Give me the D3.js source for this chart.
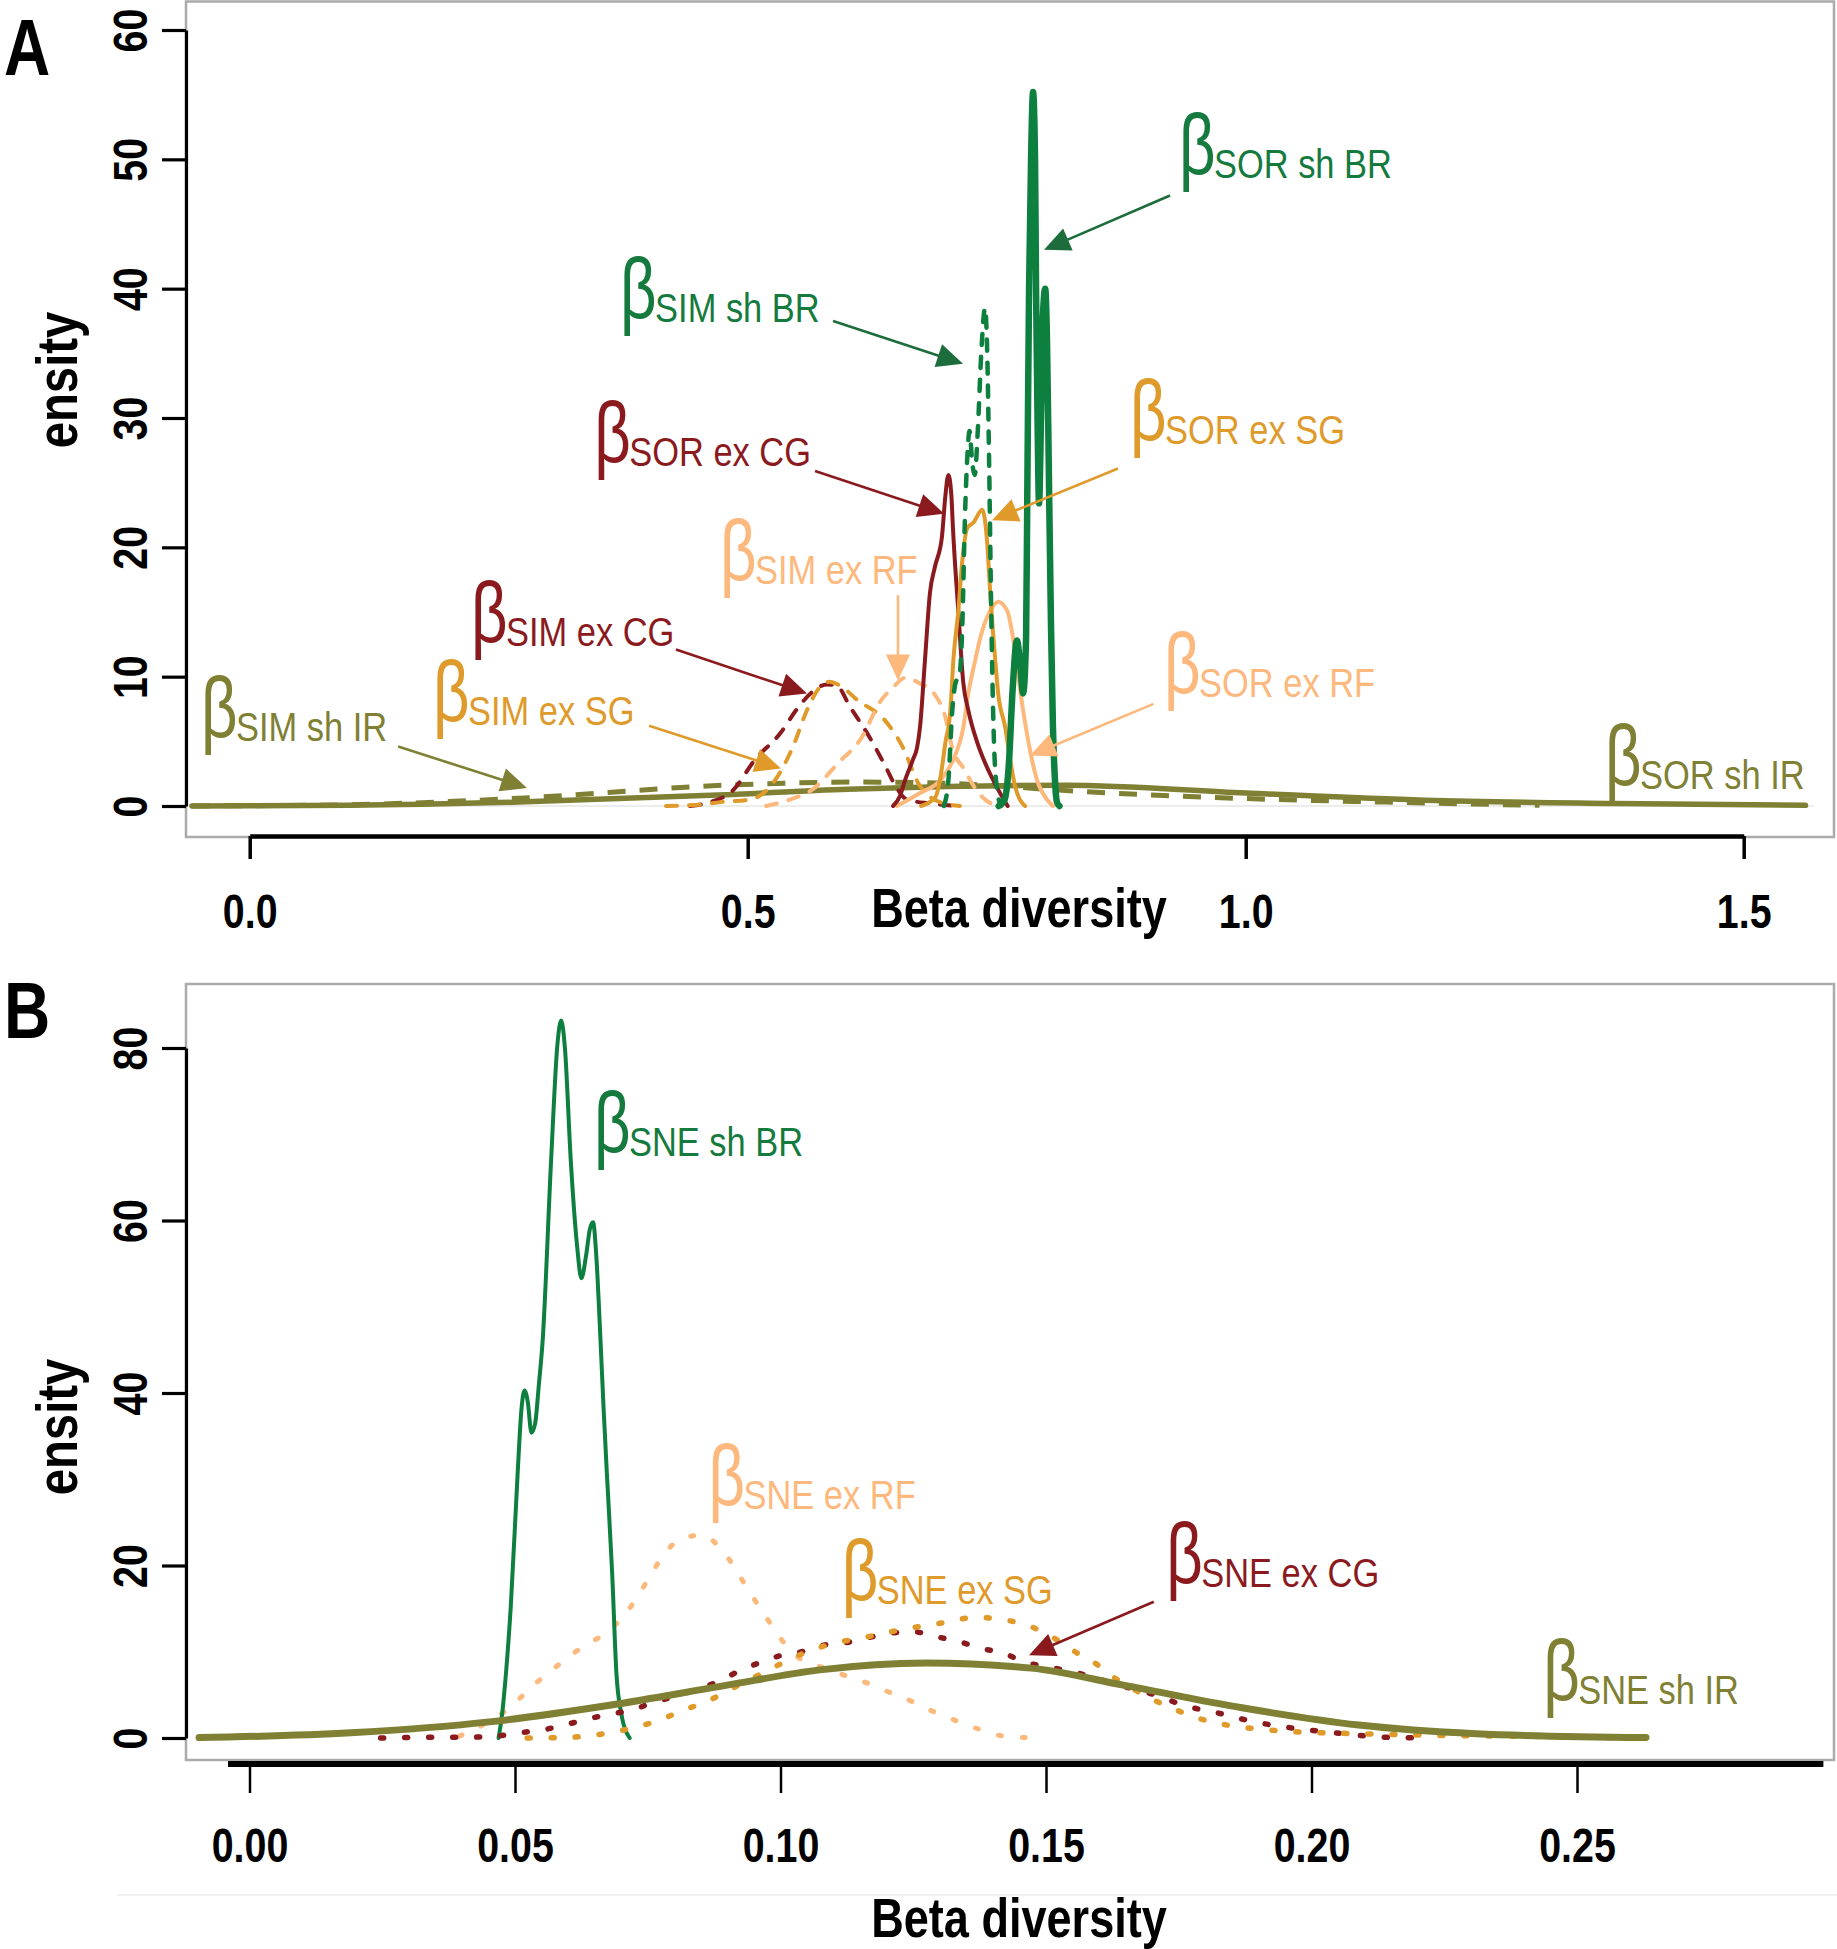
<!DOCTYPE html>
<html><head><meta charset="utf-8">
<script src="https://cdn.jsdelivr.net/npm/d3@7"></script>
<style>
html,body{margin:0;padding:0;background:#fff;}
svg{display:block;}
text{font-family:"Liberation Sans Narrow","Arial Narrow","Liberation Sans",Arial,sans-serif;}
</style></head><body>
<svg id="chart" width="1837" height="1949"></svg>
<script>
// ---------------- DATA ----------------
const xTicksA = [0, 0.5, 1.0, 1.5];
const xTickLabelsA = ["0.0", "0.5", "1.0", "1.5"];
const yTicksA = [0, 10, 20, 30, 40, 50, 60];
const xTicksB = [0, 0.05, 0.10, 0.15, 0.20, 0.25];
const xTickLabelsB = ["0.00", "0.05", "0.10", "0.15", "0.20", "0.25"];
const yTicksB = [0, 20, 40, 60, 80];
const xTitle = "Beta diversity";
const yTitle = "ensity";

// Panel A: [beta diversity, density]
const sorShBR = [[0.752,0],[0.758,0.5],[0.762,3],[0.766,9],[0.7703,12.8],[0.7735,11],[0.7765,8.7],[0.7795,13],[0.7808,25],[0.7825,40],[0.7845,50],[0.7865,55.2],[0.7885,50],[0.7895,40],[0.791,30],[0.7925,23.4],[0.7945,30],[0.7965,38],[0.7987,40],[0.8005,36],[0.8025,25],[0.8045,14],[0.8065,6],[0.8085,2],[0.8105,0.3],[0.813,0]];
const simShBR = [[0.697,0],[0.7015,2],[0.7055,7.5],[0.709,9.6],[0.7125,10],[0.7155,14],[0.718,22],[0.7205,27],[0.7227,29],[0.7255,26.5],[0.728,25.6],[0.731,29],[0.7345,35],[0.7383,38.5],[0.7405,35],[0.7425,26],[0.7445,15],[0.7465,7],[0.748,3.5],[0.751,1],[0.754,0]];
const sorExCG = [[0.646,0],[0.653,0.8],[0.658,2],[0.666,3.6],[0.670,4.5],[0.673,6.1],[0.678,11.3],[0.683,16.5],[0.688,18.5],[0.695,20.8],[0.6985,24],[0.7015,25.6],[0.7045,24],[0.706,21.6],[0.7115,15],[0.7165,9.5],[0.7215,7.4],[0.7305,4.9],[0.7385,3.3],[0.7505,1.4],[0.761,0]];
const simExCG = [[0.442,0],[0.462,0.3],[0.485,1.2],[0.5075,3.6],[0.5325,5.6],[0.5495,7.5],[0.5645,8.8],[0.5795,9.4],[0.5895,9.3],[0.6025,7.7],[0.6225,5.3],[0.64,2.8],[0.648,1.6],[0.66,0.5],[0.683,0.2],[0.713,0]];
const sorExSG = [[0.674,0],[0.6885,0.7],[0.6935,2.2],[0.6985,4.9],[0.7035,7.4],[0.7065,11.3],[0.7115,15.1],[0.7155,19],[0.7205,21.5],[0.7265,21.9],[0.7355,22.9],[0.7405,20.3],[0.7435,16.5],[0.7485,11.3],[0.7515,8.7],[0.7585,6.1],[0.7635,3.6],[0.7685,1.5],[0.7785,0]];
const simExSG = [[0.418,0],[0.452,0.1],[0.4725,0.3],[0.5025,0.5],[0.5275,2],[0.5455,4.6],[0.5595,7.4],[0.5705,9],[0.5815,9.6],[0.593,9.3],[0.61,8.2],[0.638,6.6],[0.656,4.5],[0.671,1.8],[0.693,0.3],[0.713,0]];
const sorExRF = [[0.65,0],[0.673,1],[0.6935,2],[0.7065,3.6],[0.7165,6.1],[0.7215,8.7],[0.7285,11.3],[0.7335,13],[0.7435,15.1],[0.7515,15.8],[0.7605,15.1],[0.7655,13.4],[0.7705,10.7],[0.7765,7.4],[0.7835,4.3],[0.7905,2],[0.8005,0.5],[0.8065,0]];
const simExRF = [[0.5185,0],[0.5425,0.5],[0.5655,1.3],[0.5905,3.3],[0.6145,5.3],[0.6325,8],[0.6475,9.3],[0.6575,9.9],[0.6725,9.5],[0.688,8.6],[0.698,7],[0.706,4.3],[0.716,3],[0.730,1.2],[0.740,0.4],[0.7535,0]];
const sorShIR = [[-0.058,0],[0.1,0.05],[0.27,0.3],[0.47,0.85],[0.6,1.3],[0.7,1.5],[0.82,1.6],[1.0,1.0],[1.18,0.45],[1.37,0.2],[1.562,0.05]];
const simShIR = [[-0.058,0],[0.1,0.1],[0.27,0.6],[0.475,1.6],[0.61,1.85],[0.7,1.75],[0.84,1.1],[0.99,0.6],[1.14,0.3],[1.295,0.05]];

// Panel B
const sneShBR = [[0.0469,0],[0.0475,2.4],[0.0483,7.5],[0.0492,15.2],[0.0505,30.7],[0.0512,38],[0.0518,40.3],[0.0524,39],[0.0531,35.4],[0.0538,36.5],[0.0545,41],[0.0552,46],[0.0568,67],[0.058,80.5],[0.0587,83.2],[0.0594,80],[0.0605,67],[0.0617,57],[0.0625,53.3],[0.0634,56],[0.0641,59],[0.0647,59.8],[0.0653,56],[0.066,47.5],[0.0667,38],[0.0673,30.7],[0.0683,19.1],[0.0691,7.5],[0.07,2.9],[0.0716,0]];
const sneExRF = [[0.0395,0.2],[0.0406,0.5],[0.0445,1.7],[0.0479,3.0],[0.0509,4.6],[0.054,6.4],[0.0574,8.1],[0.0609,9.8],[0.0643,11.1],[0.0678,12.5],[0.0713,14.8],[0.0747,18],[0.0782,21.4],[0.0816,23.2],[0.0851,23.5],[0.089,21.8],[0.0916,19.5],[0.0937,17.4],[0.096,15.2],[0.0985,12.9],[0.1007,11],[0.1041,9],[0.1084,8.1],[0.1119,7.3],[0.1162,6.4],[0.1205,5.3],[0.1249,4.2],[0.1283,3.2],[0.1327,2.1],[0.137,1.1],[0.1404,0.4],[0.1447,0.1],[0.1487,0]];
const sneExSG = [[0.0523,0],[0.0609,0.1],[0.0678,0.6],[0.073,1.3],[0.0773,2.1],[0.0816,3.2],[0.086,4.2],[0.0893,5.2],[0.0929,6.4],[0.0972,7.7],[0.1007,8.8],[0.105,10],[0.1102,11],[0.1162,11.7],[0.1223,12.5],[0.13,13.3],[0.137,14.0],[0.1394,13.9],[0.1472,12.9],[0.1515,11.6],[0.156,9.8],[0.1592,8.7],[0.1626,7.1],[0.1658,5.9],[0.1703,4.4],[0.1736,3.5],[0.1781,2.4],[0.1824,1.7],[0.189,1.1],[0.1978,0.7],[0.2089,0.5],[0.2244,0.3],[0.2398,0.2],[0.2596,0]];
const sneExCG = [[0.0247,0],[0.0376,0.1],[0.0419,0.1],[0.0462,0.2],[0.0506,0.6],[0.0549,0.9],[0.0592,1.5],[0.0673,2.7],[0.0717,3.2],[0.076,4.1],[0.0799,4.8],[0.0841,5.6],[0.0881,6.5],[0.092,7.7],[0.0959,8.7],[0.1003,9.6],[0.104,10],[0.1084,10.8],[0.1127,11.1],[0.117,11.7],[0.1214,12.2],[0.1251,12.3],[0.1297,11.7],[0.134,11.1],[0.1378,10.4],[0.1421,9.8],[0.146,8.8],[0.1507,8.2],[0.1547,7.7],[0.1587,7.1],[0.1626,6.3],[0.1658,5.8],[0.1715,4.8],[0.1758,3.8],[0.1824,2.9],[0.189,1.9],[0.1958,1.2],[0.2045,0.6],[0.2133,0.1],[0.2221,0]];
const sneShIR = [[-0.0095,0.05],[0.0191,0.6],[0.0456,1.9],[0.0678,3.8],[0.0897,6.1],[0.1074,7.9],[0.1273,8.7],[0.1472,8.1],[0.1648,6.1],[0.1869,3.5],[0.2089,1.5],[0.231,0.5],[0.263,0.05]];

// Annotations (data units): label anchor + optional arrow [x0,y0,x1,y1]
const annotationsA = [
  {grp:"shBR", sub:"SOR sh BR", x:0.936, y:48.9, arrow:[0.924,47.2,0.7975,43.0]},
  {grp:"shBR", sub:"SIM sh BR", x:0.3749, y:37.7, arrow:[0.5857,37.5,0.7162,34.2]},
  {grp:"exCG", sub:"SOR ex CG", x:0.3489, y:26.6, arrow:[0.5676,25.9,0.6972,22.6]},
  {grp:"exSG", sub:"SOR ex SG", x:0.8869, y:28.3, arrow:[0.8718,26.1,0.7453,22.1]},
  {grp:"exRF", sub:"SIM ex RF", x:0.4752, y:17.5, arrow:[0.6509,16.3,0.6509,9.7]},
  {grp:"exCG", sub:"SIM ex CG", x:0.2252, y:12.7, arrow:[0.428,12.1,0.5595,8.7]},
  {grp:"exSG", sub:"SIM ex SG", x:0.187, y:6.6, arrow:[0.401,6.2,0.5334,2.9]},
  {grp:"shIR", sub:"SIM sh IR", x:-0.0459, y:5.3, arrow:[0.149,4.6,0.2784,1.4]},
  {grp:"exRF", sub:"SOR ex RF", x:0.9211, y:8.7, arrow:[0.9074,7.9,0.7834,3.9]},
  {grp:"shIR", sub:"SOR sh IR", x:1.3638, y:1.6, arrow:null}
];
const annotationsB = [
  {grp:"shBR", sub:"SNE sh BR", x:0.06544, y:67.9, arrow:null},
  {grp:"exRF", sub:"SNE ex RF", x:0.0870, y:27.0, arrow:null},
  {grp:"exSG", sub:"SNE ex SG", x:0.1121, y:16.0, arrow:null},
  {grp:"exCG", sub:"SNE ex CG", x:0.1732, y:18.0, arrow:[0.1703,15.8,0.1468,9.6]},
  {grp:"shIR", sub:"SNE sh IR", x:0.2442, y:4.4, arrow:null}
];

// ---------------- STYLES ----------------
const lineCol = {shBR:"#0d7f3f", exCG:"#8b1a1e", exSG:"#e09a2a", exRF:"#fdb87b", shIR:"#7f8034"};
const textCol = {shBR:"#157a3e", exCG:"#8b1a1e", exSG:"#df9a2c", exRF:"#fdb87d", shIR:"#7f8034"};
const arrowCol = {shBR:"#1d6d3c", exCG:"#8b1a1e", exSG:"#e09a2a", exRF:"#fdb87b", shIR:"#7f8034"};
const SX = 0.82; // horizontal condensing of all text (narrow face look)

const seriesA = [
  {d:sorShIR, grp:"shIR", w:5.5, dash:null},
  {d:simShIR, grp:"shIR", w:5, dash:"18,14", cap:"butt"},
  {d:simExCG, grp:"exCG", w:4, dash:"11,12", cap:"round"},
  {d:simExSG, grp:"exSG", w:4, dash:"11,12", cap:"round"},
  {d:simExRF, grp:"exRF", w:4, dash:"11,12", cap:"round"},
  {d:sorExRF, grp:"exRF", w:4, dash:null},
  {d:sorExCG, grp:"exCG", w:4, dash:null},
  {d:sorExSG, grp:"exSG", w:4, dash:null},
  {d:simShBR, grp:"shBR", w:4.5, dash:"11,12", cap:"round"},
  {d:sorShBR, grp:"shBR", w:6.5, dash:null}
];
const seriesB = [
  {d:sneExRF, grp:"exRF", w:5, dash:"3,21", cap:"round"},
  {d:sneShBR, grp:"shBR", w:4, dash:null},
  {d:sneExCG, grp:"exCG", w:5.5, dash:"3,21", cap:"round"},
  {d:sneExSG, grp:"exSG", w:5.5, dash:"3,21", cap:"round"},
  {d:sneShIR, grp:"shIR", w:7, dash:null}
];

// ---------------- SCALES ----------------
const xA = d3.scaleLinear().domain([0, 1.5]).range([249.7, 1743.7]);
const yA = d3.scaleLinear().domain([0, 60]).range([806, 30]);
const xB = d3.scaleLinear().domain([0, 0.25]).range([249.5, 1577]);
const yB = d3.scaleLinear().domain([0, 80]).range([1738, 1048]);

const svg = d3.select("#chart");
svg.append("rect").attr("width",1837).attr("height",1949).attr("fill","#fff");

const frameCol = "#ababab";

function ctext(g, x, y, str, size, opts = {}) {
  const t = g.append("text")
    .attr("transform", `translate(${x},${y})${opts.rot ? " rotate(" + opts.rot + ")" : ""} scale(${opts.sx || SX},1)`)
    .attr("text-anchor", opts.anchor || "start")
    .style("font-size", size + "px")
    .attr("fill", opts.fill || "#000")
    .text(str);
  if (opts.bold) t.style("font-weight", "bold");
  return t;
}

function panel(opts) {
  const {xs, ys, xTicks, xLabels, yTicks, box, series, ann, letter, letterY, xAxisY, yTitleY, xTitleY, xTickLabelY, thickX, xLineExt, zeroLine} = opts;
  const g = svg.append("g");
  g.append("rect").attr("x", box[0]).attr("y", box[1]).attr("width", box[2]-box[0]).attr("height", box[3]-box[1])
    .attr("fill","none").attr("stroke", frameCol).attr("stroke-width", 2.5);
  if (zeroLine) {
    g.append("line").attr("x1", xs(zeroLine[0])).attr("x2", xs(zeroLine[1])).attr("y1", ys(0)).attr("y2", ys(0))
      .attr("stroke","#e6e6e6").attr("stroke-width",1.5);
  }
  const line = d3.line().x(d => xs(d[0])).y(d => ys(d[1])).curve(d3.curveMonotoneX);
  series.forEach(s => {
    const p = g.append("path").attr("d", line(s.d)).attr("fill","none")
      .attr("stroke", lineCol[s.grp]).attr("stroke-width", s.w)
      .attr("stroke-linejoin","round").attr("stroke-linecap", s.cap || "round");
    if (s.dash) p.attr("stroke-dasharray", s.dash);
  });
  // y axis
  const yAx = d3.axisLeft(ys).tickValues(yTicks).tickSize(24).tickSizeOuter(0).tickFormat(d3.format("d"));
  const yg = g.append("g").attr("transform", `translate(${box[0]},0)`).call(yAx);
  yg.select(".domain").attr("stroke","#000").attr("stroke-width",3.2);
  yg.selectAll(".tick line").attr("stroke","#000").attr("stroke-width",3.2);
  yg.selectAll(".tick text").attr("x",0).attr("y",0).attr("dy",0).attr("text-anchor","middle")
    .attr("transform",`translate(-39,0) rotate(-90) scale(${SX},1)`)
    .style("font-size","48px").style("font-weight","bold").attr("fill","#000")
    .style("font-family",'"Liberation Sans Narrow","Arial Narrow","Liberation Sans",Arial,sans-serif');
  // x axis
  const xAx = d3.axisBottom(xs).tickValues(xTicks).tickSize(opts.tickLen).tickSizeOuter(0).tickFormat((d,i) => xLabels[i]);
  const xg = g.append("g").attr("transform", `translate(0,${xAxisY})`).call(xAx);
  xg.selectAll(".tick line").attr("stroke","#000").attr("stroke-width", opts.tickW);
  xg.selectAll(".tick text").attr("y", 0).attr("dy",0)
    .attr("transform", `translate(0,${xTickLabelY - xAxisY}) scale(${SX},1)`)
    .style("font-size","48px").style("font-weight","bold").attr("fill","#000")
    .style("font-family",'"Liberation Sans Narrow","Arial Narrow","Liberation Sans",Arial,sans-serif');
  if (xLineExt) {
    xg.select(".domain").remove();
    g.append("line").attr("x1", xs(xLineExt[0])).attr("x2", xs(xLineExt[1])).attr("y1", xAxisY - 3).attr("y2", xAxisY - 3)
      .attr("stroke","#000").attr("stroke-width", thickX);
  } else {
    xg.select(".domain").attr("stroke","#000").attr("stroke-width", thickX);
  }
  // titles
  ctext(g, 1019, xTitleY, xTitle, 55, {anchor:"middle", bold:true});
  ctext(g, 77, yTitleY, yTitle, 57, {anchor:"middle", bold:true, rot:-90, sx:0.83});
  ctext(g, 4, letterY, letter, 80, {bold:true, sx:0.8});
  // annotations
  ann.forEach(a => {
    if (a.arrow) {
      const x0 = xs(a.arrow[0]), y0 = ys(a.arrow[1]), x1 = xs(a.arrow[2]), y1 = ys(a.arrow[3]);
      const dx = x1 - x0, dy = y1 - y0, L = Math.hypot(dx, dy), ux = dx / L, uy = dy / L;
      const hl = 26, hw = 12;
      const bx = x1 - ux * hl, by = y1 - uy * hl;
      g.append("line").attr("x1", x0).attr("y1", y0).attr("x2", bx + ux*2).attr("y2", by + uy*2)
        .attr("stroke", arrowCol[a.grp]).attr("stroke-width", 2.6);
      g.append("path").attr("d", `M${x1},${y1}L${bx - uy*hw},${by + ux*hw}L${bx + uy*hw},${by - ux*hw}Z`)
        .attr("fill", arrowCol[a.grp]);
    }
    const tx = xs(a.x), ty = ys(a.y);
    ctext(g, tx - 3, ty, "β", 86, {fill:textCol[a.grp], sx:0.74});
    ctext(g, tx + 32, ty + 4, a.sub, 41, {fill:textCol[a.grp], sx:0.84});
  });
}

panel({xs:xA, ys:yA, xTicks:xTicksA, xLabels:xTickLabelsA, yTicks:yTicksA,
  box:[186, 1.5, 1834, 837], series:seriesA, ann:annotationsA, letter:"A", letterY:75,
  xAxisY:836, tickLen:23, tickW:3.5, thickX:4.5, xLineExt:null, xTickLabelY:928,
  xTitleY:927, yTitleY:380, zeroLine:[-0.058, 1.5705]});

panel({xs:xB, ys:yB, xTicks:xTicksB, xLabels:xTickLabelsB, yTicks:yTicksB,
  box:[186, 984, 1834, 1760], series:seriesB, ann:annotationsB, letter:"B", letterY:1038,
  xAxisY:1767, tickLen:26, tickW:2.5, thickX:6, xLineExt:[-0.00405, 0.2964], xTickLabelY:1862,
  xTitleY:1937, yTitleY:1427, zeroLine:null});

svg.append("line").attr("x1",117).attr("x2",1837).attr("y1",1895).attr("y2",1895)
  .attr("stroke","#ececec").attr("stroke-width",1.5);
</script>
</body></html>
